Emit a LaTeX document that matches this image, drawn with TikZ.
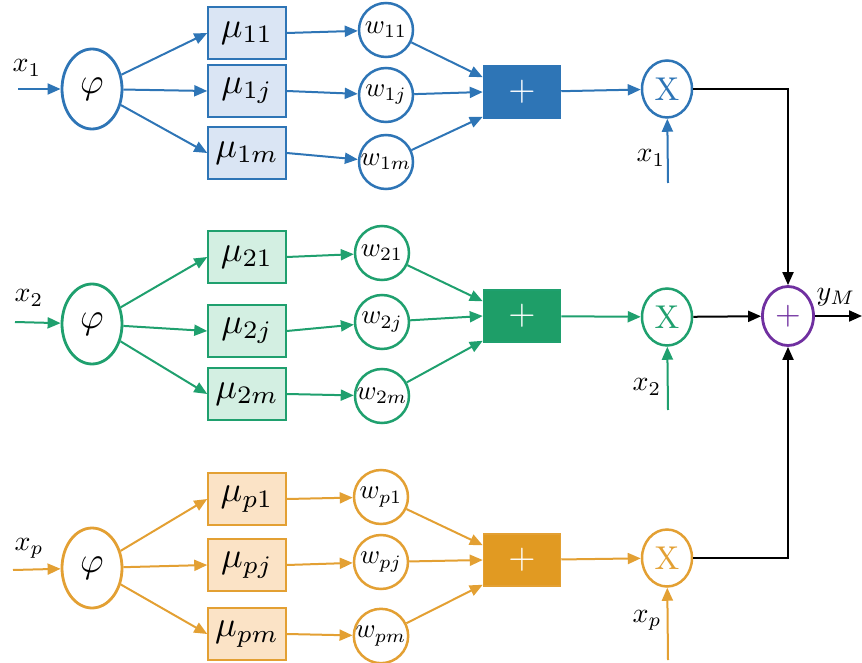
\documentclass[tikz,border=0pt]{standalone}
\usetikzlibrary{shapes.geometric,arrows.meta,calc}
\definecolor{bl}{HTML}{2E75B6}
\definecolor{blf}{HTML}{DAE5F4}
\definecolor{gr}{HTML}{1FA06E}
\definecolor{grf}{HTML}{D3EFE2}
\definecolor{gd}{HTML}{1E9E68}
\definecolor{og}{HTML}{E3A033}
\definecolor{ogf}{HTML}{FBE3C6}
\definecolor{od}{HTML}{E19A22}
\definecolor{pu}{HTML}{7030A0}
\newcommand\mysc[2]{\scalebox{#1}{$#2$}}
\tikzset{
  arr/.style={line width=2pt,-{Triangle[length=13pt,width=11pt]}},
  phinode/.style={ellipse,draw,line width=2.8pt,fill=white,text=black,minimum width=60pt,minimum height=80pt,inner sep=0pt,font=\fontsize{10}{12}\selectfont},
  mubox/.style={rectangle,draw,line width=1.5pt,minimum width=78pt,minimum height=52pt,inner sep=0pt,text=black,font=\fontsize{10}{12}\selectfont},
  wnode/.style={circle,draw,line width=2.5pt,fill=white,text=black,minimum size=54pt,inner sep=0pt,font=\fontsize{10}{12}\selectfont},
  plusbox/.style={rectangle,draw,line width=1.5pt,minimum width=77pt,minimum height=52pt,inner sep=0pt,text=white,font=\fontsize{10}{12}\selectfont},
  xnode/.style={ellipse,draw,line width=2.5pt,fill=white,minimum width=50pt,minimum height=57pt,inner sep=0pt,font=\fontsize{10}{12}\selectfont},
  lab/.style={font=\fontsize{10}{12}\selectfont,inner sep=0pt,text=black},
}
\begin{document}
\begin{tikzpicture}[x=1pt,y=-1pt]
\useasboundingbox (0,0) rectangle (862,663);
% ---------------- blue group
\begin{scope}[bl]
\node[phinode] (phi1) at (92,89) {\mysc{3.6}{\varphi}};
\node[mubox,fill=blf] (m11) at (247,33) {\mysc{3.6}{\mu_{11}}};
\node[mubox,fill=blf] (m1j) at (247,91) {\mysc{3.6}{\mu_{1j}}};
\node[mubox,fill=blf] (m1m) at (247,153) {\mysc{3.6}{\mu_{1m}}};
\node[wnode] (w11) at (386,30) {\mysc{2.7}{w_{11}}};
\node[wnode] (w1j) at (386,95) {\mysc{2.7}{w_{1j}}};
\node[wnode] (w1m) at (386,162) {\mysc{2.7}{w_{1m}}};
\node[plusbox,fill=bl] (p1) at (522,92) {\mysc{3.5}{+}};
\node[xnode] (X1) at (667,89) {\mysc{3.3}{\mathrm{X}}};
\coordinate (in1) at (18,89);
\coordinate (xb1) at (668,183);
\node[lab] (lx1) at (27,68) {\mysc{2.8}{x_1}};
\node[lab] (lxb1) at (651,158) {\mysc{2.8}{x_1}};
\draw[arr] (in1) -- (phi1);
\draw[arr] (phi1) -- (m11.west);
\draw[arr] (phi1) -- (m1j.west);
\draw[arr] (phi1) -- (m1m.west);
\draw[arr] (m11.east) -- (w11);
\draw[arr] (m1j.east) -- (w1j);
\draw[arr] (m1m.east) -- (w1m);
\draw[arr] (w11) -- ([yshift=-12pt]p1.north west);
\draw[arr] (w1j) -- (p1.west);
\draw[arr] (w1m) -- ([yshift=2pt]p1.south west);
\draw[arr] (p1) -- (X1);
\draw[arr] (xb1) -- (X1);
\end{scope}
% ---------------- green group
\begin{scope}[gr]
\node[phinode] (phi2) at (92,324) {\mysc{3.6}{\varphi}};
\node[mubox,fill=grf] (m21) at (247,257) {\mysc{3.6}{\mu_{21}}};
\node[mubox,fill=grf] (m2j) at (247,331) {\mysc{3.6}{\mu_{2j}}};
\node[mubox,fill=grf] (m2m) at (247,394) {\mysc{3.6}{\mu_{2m}}};
\node[wnode] (w21) at (382,253) {\mysc{2.7}{w_{21}}};
\node[wnode] (w2j) at (382,322) {\mysc{2.7}{w_{2j}}};
\node[wnode] (w2m) at (382,396) {\mysc{2.7}{w_{2m}}};
\node[plusbox,fill=gd] (p2) at (522,316) {\mysc{3.5}{+}};
\node[xnode] (X2) at (667,317) {\mysc{3.3}{\mathrm{X}}};
\coordinate (in2) at (15,322);
\coordinate (xb2) at (668,410);
\node[lab] (lx2) at (29,298) {\mysc{2.8}{x_2}};
\node[lab] (lxb2) at (647,387) {\mysc{2.8}{x_2}};
\draw[arr] (in2) -- (phi2);
\draw[arr] (phi2) -- (m21.west);
\draw[arr] (phi2) -- (m2j.west);
\draw[arr] (phi2) -- (m2m.west);
\draw[arr] (m21.east) -- (w21);
\draw[arr] (m2j.east) -- (w2j);
\draw[arr] (m2m.east) -- (w2m);
\draw[arr] (w21) -- ([yshift=-12pt]p2.north west);
\draw[arr] (w2j) -- (p2.west);
\draw[arr] (w2m) -- ([yshift=2pt]p2.south west);
\draw[arr] (p2) -- (X2);
\draw[arr] (xb2) -- (X2);
\end{scope}
% ---------------- orange group
\begin{scope}[og]
\node[phinode] (phip) at (92,568) {\mysc{3.6}{\varphi}};
\node[mubox,fill=ogf] (mp1) at (247,499) {\mysc{3.6}{\mu_{p1}}};
\node[mubox,fill=ogf] (mpj) at (247,565) {\mysc{3.6}{\mu_{pj}}};
\node[mubox,fill=ogf] (mpm) at (247,634) {\mysc{3.6}{\mu_{pm}}};
\node[wnode] (wp1) at (381,497) {\mysc{2.7}{w_{p1}}};
\node[wnode] (wpj) at (381,562) {\mysc{2.7}{w_{pj}}};
\node[wnode] (wpm) at (381,636) {\mysc{2.7}{w_{pm}}};
\node[plusbox,fill=od] (pp) at (522,560) {\mysc{3.5}{+}};
\node[xnode] (Xp) at (667,558) {\mysc{3.3}{\mathrm{X}}};
\coordinate (inp) at (13,570);
\coordinate (xbp) at (668,660);
\node[lab] (lxp) at (29,548) {\mysc{2.8}{x_p}};
\node[lab] (lxbp) at (647,620) {\mysc{2.8}{x_p}};
\draw[arr] (inp) -- (phip);
\draw[arr] (phip) -- (mp1.west);
\draw[arr] (phip) -- (mpj.west);
\draw[arr] (phip) -- (mpm.west);
\draw[arr] (mp1.east) -- (wp1);
\draw[arr] (mpj.east) -- (wpj);
\draw[arr] (mpm.east) -- (wpm);
\draw[arr] (wp1) -- ([yshift=-12pt]pp.north west);
\draw[arr] (wpj) -- (pp.west);
\draw[arr] (wpm) -- ([yshift=2pt]pp.south west);
\draw[arr] (pp) -- (Xp);
\draw[arr] (xbp) -- (Xp);
\end{scope}
% ---------------- sum
\node[ellipse,draw=pu,line width=2.8pt,fill=white,minimum width=51pt,minimum height=59pt,inner sep=0pt,text=pu,font=\fontsize{10}{12}\selectfont] (sum) at (788,316) {\mysc{3.3}{+}};
\coordinate (out) at (862,316);
\node[lab] (ly) at (836,297) {\mysc{2.8}{y_M}};
\draw[arr] (X1.east) -| (sum.north);
\draw[arr] (X2) -- (sum);
\draw[arr] (Xp.east) -| (sum.south);
\draw[arr] (sum) -- (out);
\end{tikzpicture}
\end{document}
